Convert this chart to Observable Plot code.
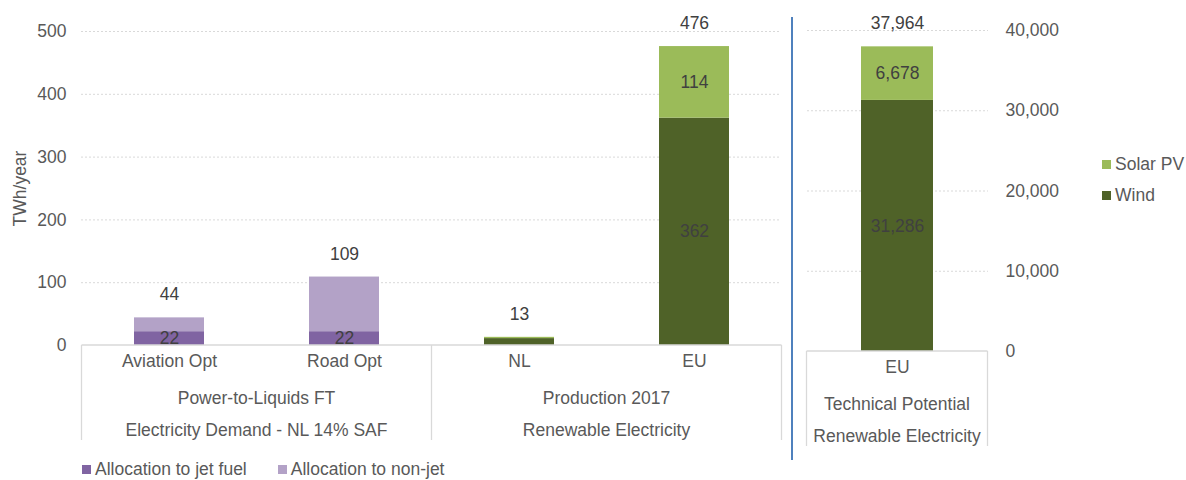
<!DOCTYPE html>
<html><head><meta charset="utf-8">
<script src="https://cdn.jsdelivr.net/npm/d3@7"></script>
<script src="https://cdn.jsdelivr.net/npm/@observablehq/plot@0.6"></script>
<style>
body{margin:0;background:#fff;font-family:"Liberation Sans",Arial,sans-serif;}
#wrap{position:relative;width:1186px;height:480px;overflow:hidden;background:#fff;}
#charts{display:flex;}
.leg{color:#595959;font-size:17.5px;display:flex;align-items:center;white-space:nowrap;line-height:19px;}
.sw{width:9px;height:9px;display:inline-block;margin-right:4px;}
#legBottom{position:absolute;left:82px;top:460px;display:flex;gap:31px;}
#legRight{position:absolute;left:1102px;top:155px;display:flex;flex-direction:column;gap:12px;}
</style></head><body>
<div id="wrap"><div id="charts"></div><div id="legBottom"></div><div id="legRight"></div></div>
<script>
// ---- data ----
const categories = ["Aviation Opt", "Road Opt", "NL", "EU"];
const groupLine1 = ["Power-to-Liquids FT", "Power-to-Liquids FT", "Production 2017", "Production 2017"];
const groupLine2 = ["Electricity Demand - NL 14% SAF", "Electricity Demand - NL 14% SAF", "Renewable Electricity", "Renewable Electricity"];
const jetFuel = [22, 22, 0, 0];
const nonJet = [22, 87, 0, 0];
const wind = [0, 0, 11, 362];
const solar = [0, 0, 2, 114];
const leftTicks = [0, 100, 200, 300, 400, 500];

const potentialCategories = ["EU"];
const potentialLine1 = ["Technical Potential"];
const potentialLine2 = ["Renewable Electricity"];
const potentialWind = [31286];
const potentialSolar = [6678];
const rightTicks = [0, 10000, 20000, 30000, 40000];

const seriesNames = ["Allocation to jet fuel", "Allocation to non-jet", "Wind", "Solar PV"];
const seriesColors = ["#8064A2", "#B3A2C7", "#4F6228", "#9BBB59"];
const labeledSeries = ["Allocation to jet fuel", "Wind", "Solar PV"];
const minLabelValue = 20;
const yLabel = "TWh/year";

// ---- tables ----
function buildRows(cats, seriesArrays) {
  const rows = [];
  cats.forEach((c, i) => {
    seriesArrays.forEach(([name, arr]) => {
      if (arr[i] > 0) rows.push({category: c, series: name, value: arr[i]});
    });
  });
  return rows;
}
const leftRows = buildRows(categories, [[seriesNames[0], jetFuel], [seriesNames[1], nonJet], [seriesNames[2], wind], [seriesNames[3], solar]]);
const rightRows = buildRows(potentialCategories, [[seriesNames[2], potentialWind], [seriesNames[3], potentialSolar]]);
const totalsOf = (rows, cats) => cats.map(c => ({category: c, total: d3.sum(rows.filter(r => r.category === c), r => r.value)}));
const leftTotals = totalsOf(leftRows, categories);
const rightTotals = totalsOf(rightRows, potentialCategories);

const fmt = d3.format(",");
const font = '"Liberation Sans", Arial, sans-serif';
const segText = d => (labeledSeries.includes(d.series) && d.value >= minLabelValue) ? fmt(d.value) : "";
const baseStyle = {fontFamily: font, fontSize: "17.5px", color: "#595959", background: "white", overflow: "visible"};
const grid = {stroke: "#d9d9d9", strokeDasharray: "2,2", strokeOpacity: 1};

const leftPlot = Plot.plot({
  width: 790, height: 462, marginLeft: 81, marginRight: 9, marginTop: 31, marginBottom: 117,
  style: baseStyle,
  x: {domain: categories, paddingInner: 0.6, paddingOuter: 0.3, axis: null},
  y: {domain: [0, 500], ticks: leftTicks, tickSize: 0, tickPadding: 15, label: null},
  color: {domain: seriesNames, range: seriesColors},
  marks: [
    Plot.ruleY(leftTicks.filter(t => t > 0), grid),
    Plot.barY(leftRows, {x: "category", y: "value", fill: "series"}),
    Plot.text(leftRows, Plot.stackY({x: "category", y: "value", text: segText, fill: "#404040"})),
    Plot.text(leftTotals, {x: "category", y: "total", text: d => fmt(d.total), dy: -23, fill: "#404040"}),
    Plot.text(categories, {x: d => d, text: d => d, frameAnchor: "bottom", dy: 21, fill: "#595959"}),
    Plot.text([yLabel], {text: d => d, frameAnchor: "left", textAnchor: "middle", rotate: -90, dx: -61, fill: "#595959"})
  ]
});

const rightPlot = Plot.plot({
  width: 396, height: 462, marginLeft: 17, marginRight: 198, marginTop: 30, marginBottom: 111,
  style: baseStyle,
  x: {domain: potentialCategories, paddingInner: 0.6, paddingOuter: 0.3, axis: null},
  y: {domain: [0, 40000], axis: "right", ticks: rightTicks, tickFormat: fmt, tickSize: 0, tickPadding: 17, label: null},
  color: {domain: seriesNames, range: seriesColors},
  marks: [
    Plot.ruleY(rightTicks.filter(t => t > 0), grid),
    Plot.barY(rightRows, {x: "category", y: "value", fill: "series"}),
    Plot.text(rightRows, Plot.stackY({x: "category", y: "value", text: segText, fill: "#404040"})),
    Plot.text(rightTotals, {x: "category", y: "total", text: d => fmt(d.total), dy: -23, fill: "#404040"}),
    Plot.text(potentialCategories, {x: d => d, text: d => d, frameAnchor: "bottom", dy: 21, fill: "#595959"})
  ]
});

// multi-level category box below the axis, built from the plot's own scales
function decorate(plot, cats, line1, line2) {
  const svg = d3.select(plot);
  const xs = plot.scale("x"), ys = plot.scale("y");
  const gap = (xs.step - xs.bandwidth) / 2;
  const y0 = ys.apply(0);
  const bottom = y0 + 95;
  const groups = [];
  cats.forEach((c, i) => {
    const key = line1[i] + "|" + line2[i];
    const last = groups[groups.length - 1];
    if (last && last.key === key) last.cats.push(c);
    else groups.push({key, l1: line1[i], l2: line2[i], cats: [c]});
  });
  const g = svg.append("g").attr("stroke", "#d9d9d9").attr("stroke-width", 1.3);
  const edges = [];
  groups.forEach(gr => {
    gr.left = xs.apply(gr.cats[0]) - gap;
    gr.right = xs.apply(gr.cats[gr.cats.length - 1]) + xs.bandwidth + gap;
    edges.push(gr.left);
  });
  edges.push(groups[groups.length - 1].right);
  g.append("line").attr("x1", edges[0]).attr("x2", edges[edges.length - 1]).attr("y1", y0).attr("y2", y0);
  edges.forEach(e => g.append("line").attr("x1", e).attr("x2", e).attr("y1", y0).attr("y2", bottom));
  const t = svg.append("g").attr("fill", "#595959").attr("text-anchor", "middle").attr("font-size", "17.5px");
  groups.forEach(gr => {
    const cx = (gr.left + gr.right) / 2;
    t.append("text").attr("x", cx).attr("y", y0 + 53).attr("dy", "0.32em").text(gr.l1);
    t.append("text").attr("x", cx).attr("y", y0 + 85).attr("dy", "0.32em").text(gr.l2);
  });
  return svg;
}
decorate(leftPlot, categories, groupLine1, groupLine2);
const rs = decorate(rightPlot, potentialCategories, potentialLine1, potentialLine2);
rs.append("line").attr("x1", 2).attr("x2", 2).attr("y1", 17).attr("y2", 460)
  .attr("stroke", "#4F81BD").attr("stroke-width", 2);

document.getElementById("charts").append(leftPlot, rightPlot);

// legends
function legendItem(name) {
  const d = document.createElement("div");
  d.className = "leg";
  const s = document.createElement("span");
  s.className = "sw";
  s.style.background = seriesColors[seriesNames.indexOf(name)];
  d.append(s, document.createTextNode(name));
  return d;
}
document.getElementById("legBottom").append(legendItem(seriesNames[0]), legendItem(seriesNames[1]));
document.getElementById("legRight").append(legendItem(seriesNames[3]), legendItem(seriesNames[2]));
</script></body></html>
